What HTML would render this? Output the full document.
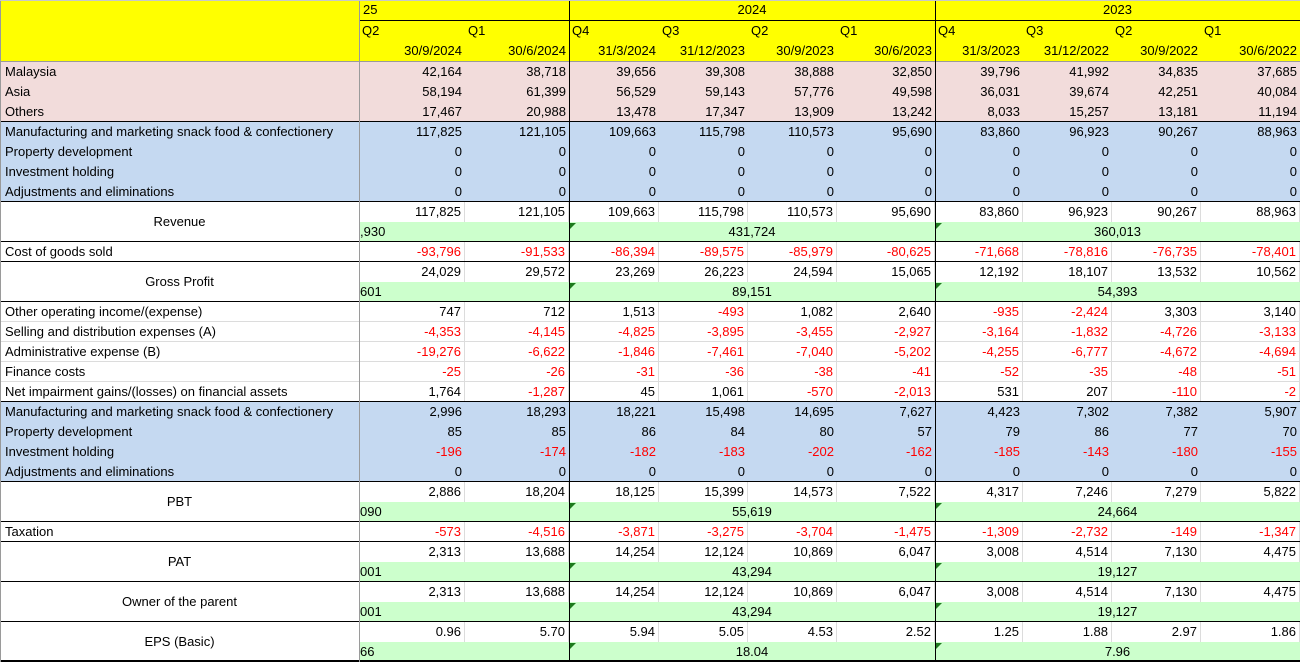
<!DOCTYPE html>
<html><head><meta charset="utf-8">
<style>
html,body{margin:0;padding:0;background:#fff;}
#sheet{position:relative;width:1300px;height:662px;overflow:hidden;font-family:"Liberation Sans",Arial,sans-serif;font-size:13px;color:#000;}
.c{position:absolute;box-sizing:border-box;white-space:nowrap;overflow:hidden;line-height:20px;}
.r{text-align:right;padding-right:3px;}
.l{text-align:left;padding-left:4px;}
.ctr{text-align:center;}
.neg{color:#ff0000;}
.ln{position:absolute;background:#000;}
.tri{position:absolute;width:0;height:0;border-top:6px solid #1e7a1e;border-right:6px solid transparent;}
</style></head>
<body>
<div id="sheet"></div>
<script>
const colX=[359,465,569,659,748,837,935,1023,1112,1201,1300];
const quarters=["Q2","Q1","Q4","Q3","Q2","Q1","Q4","Q3","Q2","Q1"];
const dates=["30/9/2024","30/6/2024","31/3/2024","31/12/2023","30/9/2023","30/6/2023","31/3/2023","31/12/2022","30/9/2022","30/6/2022"];
const years=[["25",0,2,"l"],["2024",2,6,"ctr"],["2023",6,10,"ctr"]];
const rows=[
["Malaysia","pink",["42,164","38,718","39,656","39,308","38,888","32,850","39,796","41,992","34,835","37,685"]],
["Asia","pink",["58,194","61,399","56,529","59,143","57,776","49,598","36,031","39,674","42,251","40,084"]],
["Others","pink",["17,467","20,988","13,478","17,347","13,909","13,242","8,033","15,257","13,181","11,194"]],
["Manufacturing and marketing snack food & confectionery","blue",["117,825","121,105","109,663","115,798","110,573","95,690","83,860","96,923","90,267","88,963"]],
["Property development","blue",["0","0","0","0","0","0","0","0","0","0"]],
["Investment holding","blue",["0","0","0","0","0","0","0","0","0","0"]],
["Adjustments and eliminations","blue",["0","0","0","0","0","0","0","0","0","0"]],
["Revenue","double",["117,825","121,105","109,663","115,798","110,573","95,690","83,860","96,923","90,267","88,963"],[",930","431,724","360,013"]],
["Cost of goods sold","white",["-93,796","-91,533","-86,394","-89,575","-85,979","-80,625","-71,668","-78,816","-76,735","-78,401"]],
["Gross Profit","double",["24,029","29,572","23,269","26,223","24,594","15,065","12,192","18,107","13,532","10,562"],["601","89,151","54,393"]],
["Other operating income/(expense)","white",["747","712","1,513","-493","1,082","2,640","-935","-2,424","3,303","3,140"]],
["Selling and distribution expenses (A)","white",["-4,353","-4,145","-4,825","-3,895","-3,455","-2,927","-3,164","-1,832","-4,726","-3,133"]],
["Administrative expense (B)","white",["-19,276","-6,622","-1,846","-7,461","-7,040","-5,202","-4,255","-6,777","-4,672","-4,694"]],
["Finance costs","white",["-25","-26","-31","-36","-38","-41","-52","-35","-48","-51"]],
["Net impairment gains/(losses) on financial assets","white",["1,764","-1,287","45","1,061","-570","-2,013","531","207","-110","-2"]],
["Manufacturing and marketing snack food & confectionery","blue",["2,996","18,293","18,221","15,498","14,695","7,627","4,423","7,302","7,382","5,907"]],
["Property development","blue",["85","85","86","84","80","57","79","86","77","70"]],
["Investment holding","blue",["-196","-174","-182","-183","-202","-162","-185","-143","-180","-155"]],
["Adjustments and eliminations","blue",["0","0","0","0","0","0","0","0","0","0"]],
["PBT","double",["2,886","18,204","18,125","15,399","14,573","7,522","4,317","7,246","7,279","5,822"],["090","55,619","24,664"]],
["Taxation","white",["-573","-4,516","-3,871","-3,275","-3,704","-1,475","-1,309","-2,732","-149","-1,347"]],
["PAT","double",["2,313","13,688","14,254","12,124","10,869","6,047","3,008","4,514","7,130","4,475"],["001","43,294","19,127"]],
["Owner of the parent","double",["2,313","13,688","14,254","12,124","10,869","6,047","3,008","4,514","7,130","4,475"],["001","43,294","19,127"]],
["EPS (Basic)","double",["0.96","5.70","5.94","5.05","4.53","2.52","1.25","1.88","2.97","1.86"],["66","18.04","7.96"]]
];
const fills={pink:"#f2dcdb",blue:"#c5d9f1",white:"#ffffff",double:"#ffffff",yellow:"#ffff00",green:"#ccffcc"};
const S=document.getElementById('sheet');
function mk(x,y,w,h,cls,txt,bg){
  const d=document.createElement('div');
  d.className='c '+cls;
  d.style.left=x+'px';d.style.top=y+'px';d.style.width=w+'px';d.style.height=h+'px';
  if(bg)d.style.background=bg;
  if(txt!==undefined)d.textContent=txt;
  S.appendChild(d);return d;
}
function line(x,y,w,h,color){
  const d=document.createElement('div');
  d.className='ln';
  
  
  d.style.left=x+'px';d.style.top=y+'px';d.style.width=w+'px';d.style.height=h+'px';
  d.style.background=color;S.appendChild(d);
}
// header
let h=mk(0,0,359,62,'',undefined,fills.yellow);


years.forEach(function(y){
  const d=mk(colX[y[1]],0,colX[y[2]]-colX[y[1]],21,y[3],y[0],fills.yellow);
  
  
});
for(let i=0;i<10;i++){
  const w=colX[i+1]-colX[i];
  const q=mk(colX[i],21,w,20,'l',quarters[i],fills.yellow);
  q.style.paddingLeft='3px';
  
  
  const dt=mk(colX[i],41,w,21,'r',dates[i],fills.yellow);
  
  
}
// body
let y=62;
const blackH=[21,62];
rows.forEach(function(r,ri){
  const type=r[1];
  const bg=fills[type];
  if(type==='double'){
    const lab=mk(0,y,359,40,'ctr',r[0],'#fff');
    lab.style.lineHeight='40px';
    
    
    for(let i=0;i<10;i++){
      const v=r[2][i];
      const c=mk(colX[i],y,colX[i+1]-colX[i],20,'r'+(v[0]==='-'?' neg':''),v,'#fff');
      c.style.borderRight='1px solid #dcdcdc';
      
      
    }
    const t=r[3];
    const g1=mk(359,y+20,210,20,'l',t[0],fills.green);g1.style.paddingLeft='1px';
    
    
    const g2=mk(569,y+20,366,20,'ctr',t[1],fills.green);
    
    
    const g3=mk(935,y+20,365,20,'ctr',t[2],fills.green);
    
    
    [570,936].forEach(function(x){
      const tr=document.createElement('div');tr.className='tri';
      
      
      tr.style.left=x+'px';tr.style.top=(y+21)+'px';S.appendChild(tr);
    });
    blackH.push(y,y+40);
    y+=40;
  } else {
    const lab=mk(0,y,359,20,'l',r[0],bg);
    lab.style.paddingLeft='5px';
    
    
    for(let i=0;i<10;i++){
      const v=r[2][i];
      const c=mk(colX[i],y,colX[i+1]-colX[i],20,'r'+(v[0]==='-'?' neg':''),v,bg);
      if(type==='white'){c.style.borderRight='1px solid #dcdcdc';c.style.borderBottom='1px solid #dcdcdc';}
      
      
    }
    if(type==='white'){lab.style.borderBottom='1px solid #dcdcdc';}
    y+=20;
  }
});
// black lines
[122,242,262,302,402,482,522,542,582,622,661].forEach(function(v){blackH.push(v);});
blackH.forEach(function(v){
  if(v===21) line(359,20,941,1,'#000');
  else if(v===62) line(0,61,1300,1,'#9a9a9a');
  else line(0,v-1,1300,1,'#000');
});
line(359,0,1,662,'#9a9a9a');
line(569,0,1,662,'#000');
line(935,0,1,662,'#000');
line(0,0,1,662,'#9a9a9a');
line(0,0,1300,1,'#c8c8c8');
</script>
</body></html>
